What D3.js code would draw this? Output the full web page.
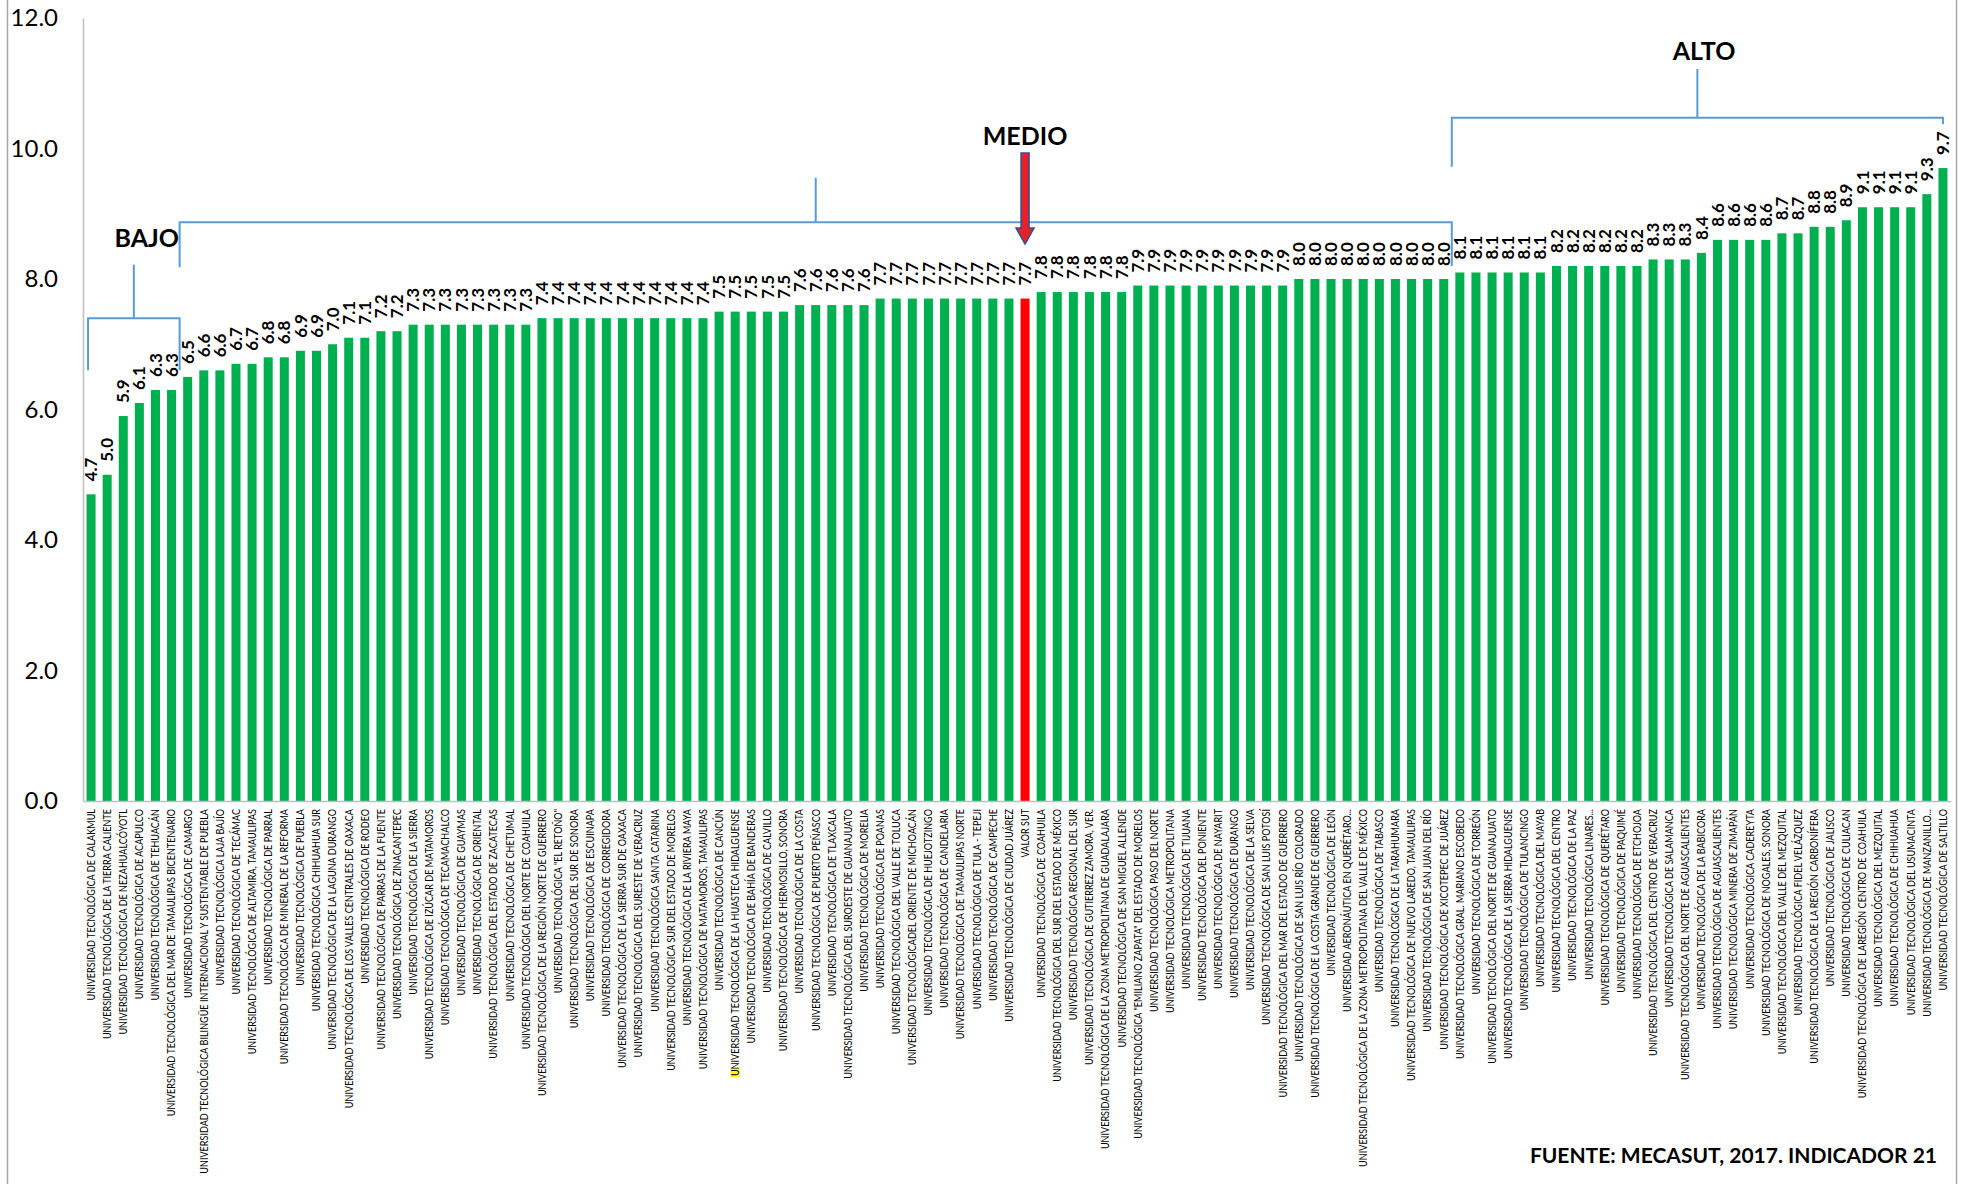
<!DOCTYPE html>
<html><head><meta charset="utf-8">
<script src="https://cdn.jsdelivr.net/npm/d3@7"></script>
<style>body{margin:0;background:#fff;} svg{display:block;font-family:Lato,'Open Sans',sans-serif;}</style>
</head><body><svg id="c" width="1962" height="1184"></svg>
<script>
const categories = [
"UNIVERSIDAD TECNOLÓGICA DE CALAKMUL",
"UNIVERSIDAD TECNOLÓGICA DE LA TIERRA CALIENTE",
"UNIVERSIDAD TECNOLÓGICA DE NEZAHUALCÓYOTL",
"UNIVERSIDAD TECNOLÓGICA DE ACAPULCO",
"UNIVERSIDAD TECNOLÓGICA DE TEHUACÁN",
"UNIVERSIDAD TECNOLÓGICA DEL MAR DE TAMAULIPAS BICENTENARIO",
"UNIVERSIDAD TECNOLÓGICA DE CAMARGO",
"UNIVERSIDAD TECNOLÓGICA BILINGÜE INTERNACIONAL Y SUSTENTABLE DE PUEBLA",
"UNIVERSIDAD TECNOLÓGICA LAJA BAJÍO",
"UNIVERSIDAD TECNOLÓGICA DE TECÁMAC",
"UNIVERSIDAD TECNOLÓGICA DE ALTAMIRA, TAMAULIPAS",
"UNIVERSIDAD TECNOLÓGICA DE PARRAL",
"UNIVERSIDAD TECNOLÓGICA DE MINERAL DE LA REFORMA",
"UNIVERSIDAD TECNOLÓGICA DE PUEBLA",
"UNIVERSIDAD TECNOLÓGICA CHIHUAHUA SUR",
"UNIVERSIDAD TECNOLÓGICA DE LA LAGUNA DURANGO",
"UNIVERSIDAD TECNOLÓGICA DE LOS VALLES CENTRALES DE OAXACA",
"UNIVERSIDAD TECNOLÓGICA DE RODEO",
"UNIVERSIDAD TECNOLÓGICA DE PARRAS DE LA FUENTE",
"UNIVERSIDAD TECNOLÓGICA DE ZINACANTEPEC",
"UNIVERSIDAD TECNOLÓGICA DE LA SIERRA",
"UNIVERSIDAD TECNOLÓGICA DE IZÚCAR DE MATAMOROS",
"UNIVERSIDAD TECNOLÓGICA DE TECAMACHALCO",
"UNIVERSIDAD TECNOLÓGICA DE GUAYMAS",
"UNIVERSIDAD TECNOLÓGICA DE ORIENTAL",
"UNIVERSIDAD TECNOLÓGICA DEL ESTADO DE ZACATECAS",
"UNIVERSIDAD TECNOLÓGICA DE CHETUMAL",
"UNIVERSIDAD TECNOLÓGICA DEL NORTE DE COAHUILA",
"UNIVERSIDAD TECNOLÓGICA DE LA REGIÓN NORTE DE GUERRERO",
"UNIVERSIDAD TECNOLÓGICA \"EL RETOÑO\"",
"UNIVERSIDAD TECNOLÓGICA DEL SUR DE SONORA",
"UNIVERSIDAD TECNOLÓGICA DE ESCUINAPA",
"UNIVERSIDAD TECNOLÓGICA DE CORREGIDORA",
"UNIVERSIDAD TECNOLÓGICA DE LA SIERRA SUR DE OAXACA",
"UNIVERSIDAD TECNOLÓGICA DEL SURESTE DE VERACRUZ",
"UNIVERSIDAD TECNOLÓGICA SANTA CATARINA",
"UNIVERSIDAD TECNOLÓGICA SUR DEL ESTADO DE MORELOS",
"UNIVERSIDAD TECNOLÓGICA DE LA RIVIERA MAYA",
"UNIVERSIDAD TECNOLÓGICA DE MATAMOROS, TAMAULIPAS",
"UNIVERSIDAD TECNOLÓGICA DE CANCÚN",
"UNIVERSIDAD TECNOLÓGICA DE LA HUASTECA HIDALGUENSE",
"UNIVERSIDAD TECNOLÓGICA DE BAHÍA DE BANDERAS",
"UNIVERSIDAD TECNOLÓGICA DE CALVILLO",
"UNIVERSIDAD TECNOLÓGICA DE HERMOSILLO, SONORA",
"UNIVERSIDAD TECNOLÓGICA DE LA COSTA",
"UNIVERSIDAD TECNOLÓGICA DE PUERTO PEÑASCO",
"UNIVERSIDAD TECNOLÓGICA DE TLAXCALA",
"UNIVERSIDAD TECNOLÓGICA DEL SUROESTE DE GUANAJUATO",
"UNIVERSIDAD TECNOLÓGICA DE MORELIA",
"UNIVERSIDAD TECNOLÓGICA DE POANAS",
"UNIVERSIDAD TECNOLÓGICA DEL VALLE DE TOLUCA",
"UNIVERSIDAD TECNOLÓGICADEL ORIENTE DE MICHOACÁN",
"UNIVERSIDAD TECNOLÓGICA DE HUEJOTZINGO",
"UNIVERSIDAD TECNOLÓGICA DE CANDELARIA",
"UNIVERSIDAD TECNOLÓGICA DE TAMAULIPAS NORTE",
"UNIVERSIDAD TECNOLÓGICA DE TULA - TEPEJI",
"UNIVERSIDAD TECNOLÓGICA DE CAMPECHE",
"UNIVERSIDAD TECNOLÓGICA DE CIUDAD JUÁREZ",
"VALOR SUT",
"UNIVERSIDAD TECNOLÓGICA DE COAHUILA",
"UNIVERSIDAD TECNOLÓGICA DEL SUR DEL ESTADO DE MÉXICO",
"UNIVERSIDAD TECNOLÓGICA REGIONAL DEL SUR",
"UNIVERSIDAD TECNOLÓGICA DE GUTIERREZ ZAMORA, VER.",
"UNIVERSIDAD TECNOLÓGICA DE LA ZONA METROPOLITANA DE GUADALAJARA",
"UNIVERSIDAD TECNOLÓGICA DE SAN MIGUEL ALLENDE",
"UNIVERSIDAD TECNOLÓGICA \"EMILIANO ZAPATA\" DEL ESTADO DE MORELOS",
"UNIVERSIDAD TECNOLÓGICA PASO DEL NORTE",
"UNIVERSIDAD TECNOLÓGICA METROPOLITANA",
"UNIVERSIDAD TECNOLÓGICA DE TIJUANA",
"UNIVERSIDAD TECNOLÓGICA DEL PONIENTE",
"UNIVERSIDAD TECNOLÓGICA DE NAYARIT",
"UNIVERSIDAD TECNOLÓGICA DE DURANGO",
"UNIVERSIDAD TECNOLÓGICA DE LA SELVA",
"UNIVERSIDAD TECNOLÓGICA DE SAN LUIS POTOSÍ",
"UNIVERSIDAD TECNOLÓGICA DEL MAR DEL ESTADO DE GUERRERO",
"UNIVERSIDAD TECNOLÓGICA DE SAN LUIS RÍO COLORADO",
"UNIVERSIDAD TECNOLÓGICA DE LA COSTA GRANDE DE GUERRERO",
"UNIVERSIDAD TECNOLÓGICA DE LEÓN",
"UNIVERSIDAD AERONÁUTICA EN QUERÉTARO...",
"UNIVERSIDAD TECNOLÓGICA DE LA ZONA METROPOLITANA DEL VALLE DE MÉXICO",
"UNIVERSIDAD TECNOLÓGICA DE TABASCO",
"UNIVERSIDAD TECNOLÓGICA DE LA TARAHUMARA",
"UNIVERSIDAD TECNOLÓGICA DE NUEVO LAREDO, TAMAULIPAS",
"UNIVERSIDAD TECNOLÓGICA DE SAN JUAN DEL RÍO",
"UNIVERSIDAD TECNOLÓGICA DE XICOTEPEC DE JUÁREZ",
"UNIVERSIDAD TECNOLÓGICA GRAL. MARIANO ESCOBEDO",
"UNIVERSIDAD TECNOLÓGICA DE TORREÓN",
"UNIVERSIDAD TECNOLÓGICA DEL NORTE DE GUANAJUATO",
"UNIVERSIDAD TECNOLÓGICA DE LA SIERRA HIDALGUENSE",
"UNIVERSIDAD TECNOLÓGICA DE TULANCINGO",
"UNIVERSIDAD TECNOLÓGICA DEL MAYAB",
"UNIVERSIDAD TECNOLÓGICA DEL CENTRO",
"UNIVERSIDAD TECNOLÓGICA DE LA PAZ",
"UNIVERSIDAD TECNOLÓGICA LINARES...",
"UNIVERSIDAD TECNOLÓGICA DE QUERÉTARO",
"UNIVERSIDAD TECNOLÓGICA DE PAQUIMÉ",
"UNIVERSIDAD TECNOLÓGICA DE ETCHOJOA",
"UNIVERSIDAD TECNOLÓGICA DEL CENTRO DE VERACRUZ",
"UNIVERSIDAD TECNOLÓGICA DE SALAMANCA",
"UNIVERSIDAD TECNOLÓGICA DEL NORTE DE AGUASCALIENTES",
"UNIVERSIDAD TECNOLÓGICA DE LA BABICORA",
"UNIVERSIDAD TECNOLÓGICA DE AGUASCALIENTES",
"UNIVERSIDAD TECNOLÓGICA MINERA DE ZIMAPÁN",
"UNIVERSIDAD TECNOLÓGICA CADEREYTA",
"UNIVERSIDAD TECNOLÓGICA DE NOGALES, SONORA",
"UNIVERSIDAD TECNOLÓGICA DEL VALLE DEL MEZQUITAL",
"UNIVERSIDAD TECNOLÓGICA FIDEL VELÁZQUEZ",
"UNIVERSIDAD TECNOLÓGICA DE LA REGIÓN CARBONÍFERA",
"UNIVERSIDAD TECNOLÓGICA DE JALISCO",
"UNIVERSIDAD TECNOLÓGICA DE CULIACAN",
"UNIVERSIDAD TECNOLÓGICA DE LAREGIÓN CENTRO DE COAHUILA",
"UNIVERSIDAD TECNOLÓGICA DEL MEZQUITAL",
"UNIVERSIDAD TECNOLÓGICA DE CHIHUAHUA",
"UNIVERSIDAD TECNOLÓGICA DEL USUMACINTA",
"UNIVERSIDAD TECNOLÓGICA DE MANZANILLO...",
"UNIVERSIDAD TECNOLÓGICA DE SALTILLO"
];
const values = [
4.7,5.0,5.9,6.1,6.3,6.3,6.5,6.6,6.6,6.7,
6.7,6.8,6.8,6.9,6.9,7.0,7.1,7.1,7.2,7.2,
7.3,7.3,7.3,7.3,7.3,7.3,7.3,7.3,7.4,7.4,
7.4,7.4,7.4,7.4,7.4,7.4,7.4,7.4,7.4,7.5,
7.5,7.5,7.5,7.5,7.6,7.6,7.6,7.6,7.6,7.7,
7.7,7.7,7.7,7.7,7.7,7.7,7.7,7.7,7.7,7.8,
7.8,7.8,7.8,7.8,7.8,7.9,7.9,7.9,7.9,7.9,
7.9,7.9,7.9,7.9,7.9,8.0,8.0,8.0,8.0,8.0,
8.0,8.0,8.0,8.0,8.0,8.1,8.1,8.1,8.1,8.1,
8.1,8.2,8.2,8.2,8.2,8.2,8.2,8.3,8.3,8.3,
8.4,8.6,8.6,8.6,8.6,8.7,8.7,8.8,8.8,8.9,
9.1,9.1,9.1,9.1,9.3,9.7
];
const yTicks = [0, 2, 4, 6, 8, 10, 12];
const highlightCategory = "VALOR SUT";
const markedLabel = "UNIVERSIDAD TECNOLÓGICA DE LA HUASTECA HIDALGUENSE";
const groupNames = ["BAJO", "MEDIO", "ALTO"];
const groupFirstIndex = [0, 6, 85];
const groupLastIndex = [5, 84, 115];
const sourceText = "FUENTE: MECASUT, 2017. INDICADOR 21";

const svg = d3.select("#c");
const W = 1962, H = 1184;
const FONT = "Lato, 'Open Sans', sans-serif";
const x = d3.scaleBand().domain(categories).range([83, 1951]).paddingInner(0.44).paddingOuter(0.22);
const y = d3.scaleLinear().domain([0, 12]).range([801, 18]);
const step = x.step();
const boundary = i => x.range()[0] + i * step;
const cx = i => x(categories[i]) + x.bandwidth() / 2;

// outer border
svg.append("rect").attr("x", 7.5).attr("y", -2).attr("width", 1949).attr("height", H + 4)
  .attr("fill", "none").attr("stroke", "#A6A6A6").attr("stroke-width", 1.5);

const hlLayer = svg.append("g");

// axes
const yAxis = d3.axisLeft(y).tickValues(yTicks).tickFormat(d3.format(".1f")).tickSize(0).tickPadding(25);
const gy = svg.append("g").attr("transform", "translate(83,0)").call(yAxis);
gy.select(".domain").attr("stroke", "#BFBFBF").attr("stroke-width", 1.5);
gy.selectAll("text").attr("font-size", 24).attr("fill", "#000").attr("font-family", FONT);

// bars
svg.append("g").selectAll("rect").data(categories).join("rect")
  .attr("x", d => x(d)).attr("width", x.bandwidth())
  .attr("y", (d, i) => y(values[i])).attr("height", (d, i) => y(0) - y(values[i]))
  .attr("fill", d => d === highlightCategory ? "#FF0000" : "#00B050");

const gx = svg.append("g").attr("transform", "translate(0,801)").call(d3.axisBottom(x).tickSize(0).tickPadding(0));
gx.select(".domain").attr("stroke", "#BFBFBF").attr("stroke-width", 1.5);
const tickTexts = gx.selectAll(".tick text")
  .attr("text-anchor", "end").attr("font-size", 11).attr("fill", "#000")
  .attr("font-family", FONT)
  .attr("dy", "0.35em").attr("y", 0);
let maxLen = 0;
tickTexts.each(function() { maxLen = Math.max(maxLen, this.getComputedTextLength()); });
const labelScale = Math.min(0.9, (H - 10 - 809) / maxLen);
tickTexts.attr("transform", `translate(0,8) rotate(-90) scale(${labelScale},1)`);

// yellow highlight on first letter of a label
gx.selectAll(".tick").each(function(d) {
  if (d !== markedLabel) return;
  const t = d3.select(this).select("text").node();
  const len = t.getComputedTextLength() * labelScale;
  const i = categories.indexOf(d);
  hlLayer.append("rect").attr("x", cx(i) - 4.5).attr("y", 801 + 8 + len - 8)
    .attr("width", 9).attr("height", 9).attr("fill", "#FFFF00");
});

// value labels
svg.append("g").selectAll("text").data(categories).join("text")
  .attr("transform", (d, i) => `translate(${cx(i)},${y(values[i]) - 13}) rotate(-90)`)
  .attr("dy", "0.36em").attr("text-anchor", "start")
  .attr("font-size", 17).attr("font-weight", "bold").attr("fill", "#000")
  .text((d, i) => d3.format(".1f")(values[i]));

// brackets
const bc = "#5B9BD5";
const g = svg.append("g").attr("stroke", bc).attr("stroke-width", 2).attr("fill", "none");
const brackets = [
  {x0: cx(groupFirstIndex[0]) - 3, x1: boundary(groupLastIndex[0] + 1), yb: y(7.4), l0: y(6.6), l1: y(6.6), st: y(8.22)},
  {x0: boundary(groupFirstIndex[1]), x1: boundary(groupLastIndex[1] + 1), yb: y(8.87), l0: y(8.18), l1: y(8.2), st: y(9.55)},
  {x0: boundary(groupFirstIndex[2]), x1: cx(groupLastIndex[2]), yb: y(10.47), l0: y(9.72), l1: y(10.37), st: y(11.22)}
];
brackets.forEach(b => {
  const mid = (b.x0 + b.x1) / 2;
  g.append("path").attr("d", `M${b.x0},${b.l0}V${b.yb}H${b.x1}V${b.l1}M${mid},${b.yb}V${b.st}`);
});

// group labels
svg.append("text").attr("x", 179).attr("y", 247).attr("text-anchor", "end")
  .attr("font-size", 25).attr("font-weight", "bold").text(groupNames[0]);
const sutIdx = categories.indexOf(highlightCategory);
svg.append("text").attr("x", cx(sutIdx)).attr("y", 145).attr("text-anchor", "middle")
  .attr("font-size", 25).attr("font-weight", "bold").text(groupNames[1]);
svg.append("text").attr("x", 1704).attr("y", 60).attr("text-anchor", "middle")
  .attr("font-size", 25).attr("font-weight", "bold").text(groupNames[2]);

// red arrow
(function(){
  const X = cx(sutIdx), top = 153, bot = 244, sw = 4, hw = 9, hl = 16;
  svg.append("path")
    .attr("d", `M${X-sw},${top}H${X+sw}V${bot-hl}H${X+hw}L${X},${bot}L${X-hw},${bot-hl}H${X-sw}Z`)
    .attr("fill", "#E8202A").attr("stroke", "#2F4F8F").attr("stroke-width", 1.5);
})();

// source
svg.append("text").attr("x", 1937).attr("y", 1163).attr("text-anchor", "end")
  .attr("font-size", 21).attr("font-weight", "bold").text(sourceText);
</script>
</body></html>
